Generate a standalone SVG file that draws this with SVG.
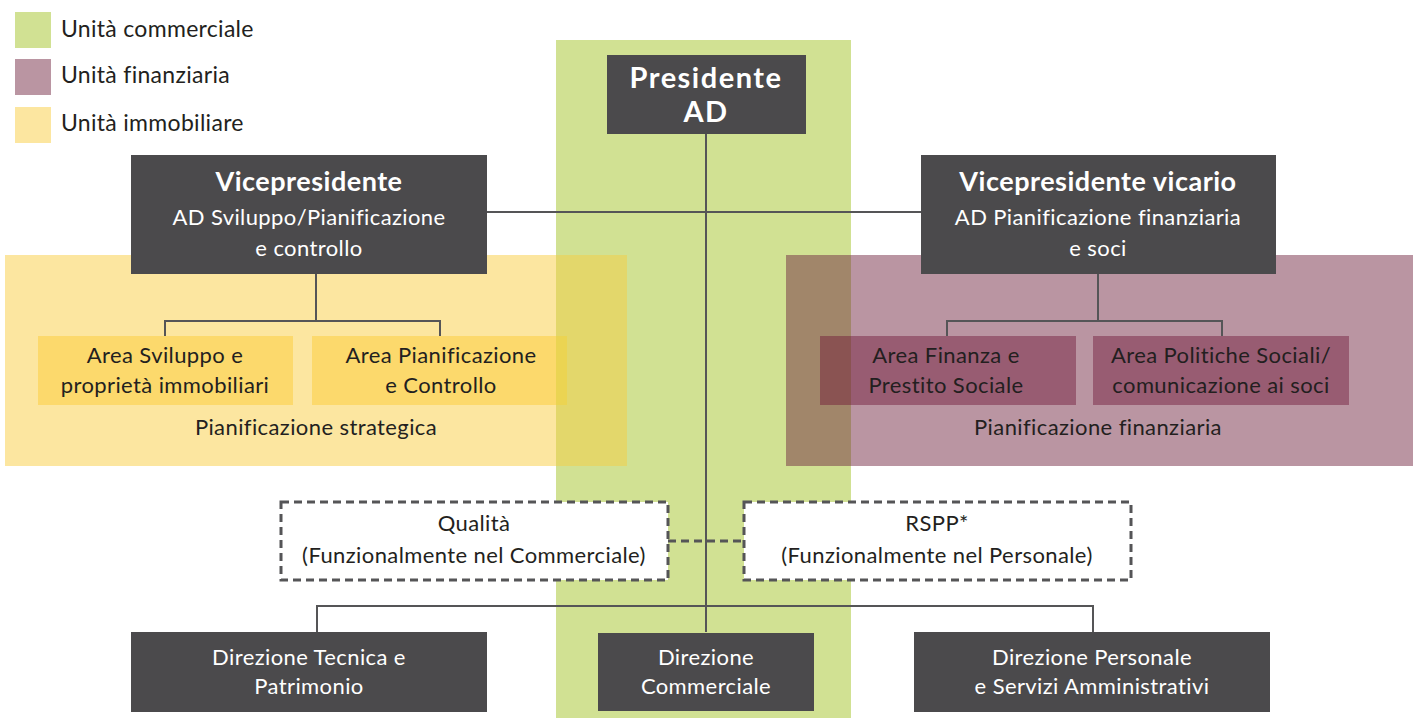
<svg xmlns="http://www.w3.org/2000/svg" width="1413" height="718" viewBox="0 0 1413 718">
  <style>
    text { font-family: Lato, "Open Sans", "Liberation Sans", sans-serif; }
    .legend { font-size: 23px; letter-spacing: 0.3px; fill: #231f20; }
    .dark { fill: #4b4a4c; }
    .wt { fill: #ffffff; font-size: 22px; letter-spacing: 0.4px; text-anchor: middle; }
    .wb { fill: #ffffff; font-weight: bold; text-anchor: middle; }
    .bt { fill: #231f20; font-size: 22px; letter-spacing: 0.4px; text-anchor: middle; }
    .conn { stroke: #555557; stroke-width: 2; fill: none; }
    .dash { stroke: #555557; stroke-width: 3; fill: #ffffff; stroke-dasharray: 8 5; }
  </style>

  <!-- legend -->
  <g id="legend">
    <rect x="15" y="12" width="36" height="36" fill="#d1e193"/>
    <text class="legend" x="61" y="37">Unità commerciale</text>
    <rect x="15" y="59" width="36" height="36" fill="#ba95a2"/>
    <text class="legend" x="61" y="83">Unità finanziaria</text>
    <rect x="15" y="107" width="36" height="36" fill="#fce6a0"/>
    <text class="legend" x="61" y="131">Unità immobiliare</text>
  </g>

  <!-- unit backgrounds -->
  <g id="units">
    <rect x="556" y="40" width="295" height="678" fill="#d1e193"/>
    <rect x="5" y="255" width="622" height="211" fill="#fce6a0"/>
    <rect x="556" y="255" width="71" height="211" fill="#e3d76b"/>
    <rect x="786" y="255" width="627" height="211" fill="#ba95a2"/>
    <rect x="786" y="255" width="65" height="211" fill="#a1866a"/>
  </g>

  <!-- connectors -->
  <g id="connectors">
    <path class="conn" d="M706 134 V632"/>
    <path class="conn" d="M487 212 H921"/>
    <path class="conn" d="M316 274 V321 M165 336 V321 H440 V336"/>
    <path class="conn" d="M1098 274 V321 M947 336 V321 H1222 V336"/>
    <path class="conn" d="M317 632 V606 H1093 V632"/>
    <path d="M668 541 H744" stroke="#555557" stroke-width="3" stroke-dasharray="8 5" fill="none"/>
  </g>

  <g id="presidente">
    <rect class="dark" x="607" y="55" width="199" height="79"/>
    <text class="wb" x="706" y="88" font-size="29" letter-spacing="1.5">Presidente</text>
    <text class="wb" x="706" y="122" font-size="29" letter-spacing="1.5">AD</text>
  </g>

  <g id="vicepresidente">
    <rect class="dark" x="131" y="155" width="356" height="119"/>
    <text class="wb" x="309" y="191" font-size="27" letter-spacing="0.5">Vicepresidente</text>
    <text class="wt" x="309" y="225">AD Sviluppo/Pianificazione</text>
    <text class="wt" x="309" y="256">e controllo</text>
  </g>

  <g id="vicepresidente-vicario">
    <rect class="dark" x="921" y="155" width="355" height="119"/>
    <text class="wb" x="1098" y="191" font-size="27" letter-spacing="0.5">Vicepresidente vicario</text>
    <text class="wt" x="1098" y="225">AD Pianificazione finanziaria</text>
    <text class="wt" x="1098" y="256">e soci</text>
  </g>

  <g id="area-sviluppo">
    <rect x="38" y="336" width="255" height="69" fill="#fcd96c"/>
    <text class="bt" x="165" y="363">Area Sviluppo e</text>
    <text class="bt" x="165" y="393">proprietà immobiliari</text>
  </g>

  <g id="area-pianificazione">
    <rect x="312" y="336" width="255" height="69" fill="#fcd96c"/>
    <rect x="556" y="336" width="11" height="69" fill="#ebd452"/>
    <text class="bt" x="441" y="363">Area Pianificazione</text>
    <text class="bt" x="441" y="393">e Controllo</text>
  </g>

  <g id="pianificazione-strategica">
    <text class="bt" x="316" y="435">Pianificazione strategica</text>
  </g>

  <g id="area-finanza">
    <rect x="820" y="336" width="256" height="69" fill="#985c72"/>
    <rect x="820" y="336" width="31" height="69" fill="#8a5352"/>
    <text class="bt" x="946" y="363">Area Finanza e</text>
    <text class="bt" x="946" y="393">Prestito Sociale</text>
  </g>

  <g id="area-politiche">
    <rect x="1093" y="336" width="256" height="69" fill="#985c72"/>
    <text class="bt" x="1221" y="363">Area Politiche Sociali/</text>
    <text class="bt" x="1221" y="393">comunicazione ai soci</text>
  </g>

  <g id="pianificazione-finanziaria">
    <text class="bt" x="1098" y="435">Pianificazione finanziaria</text>
  </g>

  <g id="qualita">
    <rect class="dash" x="281" y="502" width="387" height="78"/>
    <text class="bt" x="474" y="531">Qualità</text>
    <text class="bt" x="474" y="563">(Funzionalmente nel Commerciale)</text>
  </g>

  <g id="rspp">
    <rect class="dash" x="744" y="502" width="387" height="78"/>
    <text class="bt" x="937" y="531">RSPP*</text>
    <text class="bt" x="937" y="563">(Funzionalmente nel Personale)</text>
  </g>

  <g id="direzione-tecnica">
    <rect class="dark" x="131" y="632" width="356" height="80"/>
    <text class="wt" x="309" y="665">Direzione Tecnica e</text>
    <text class="wt" x="309" y="694">Patrimonio</text>
  </g>

  <g id="direzione-commerciale">
    <rect class="dark" x="598" y="633" width="216" height="78"/>
    <text class="wt" x="706" y="665">Direzione</text>
    <text class="wt" x="706" y="694">Commerciale</text>
  </g>

  <g id="direzione-personale">
    <rect class="dark" x="914" y="632" width="356" height="80"/>
    <text class="wt" x="1092" y="665">Direzione Personale</text>
    <text class="wt" x="1092" y="694">e Servizi Amministrativi</text>
  </g>
</svg>
